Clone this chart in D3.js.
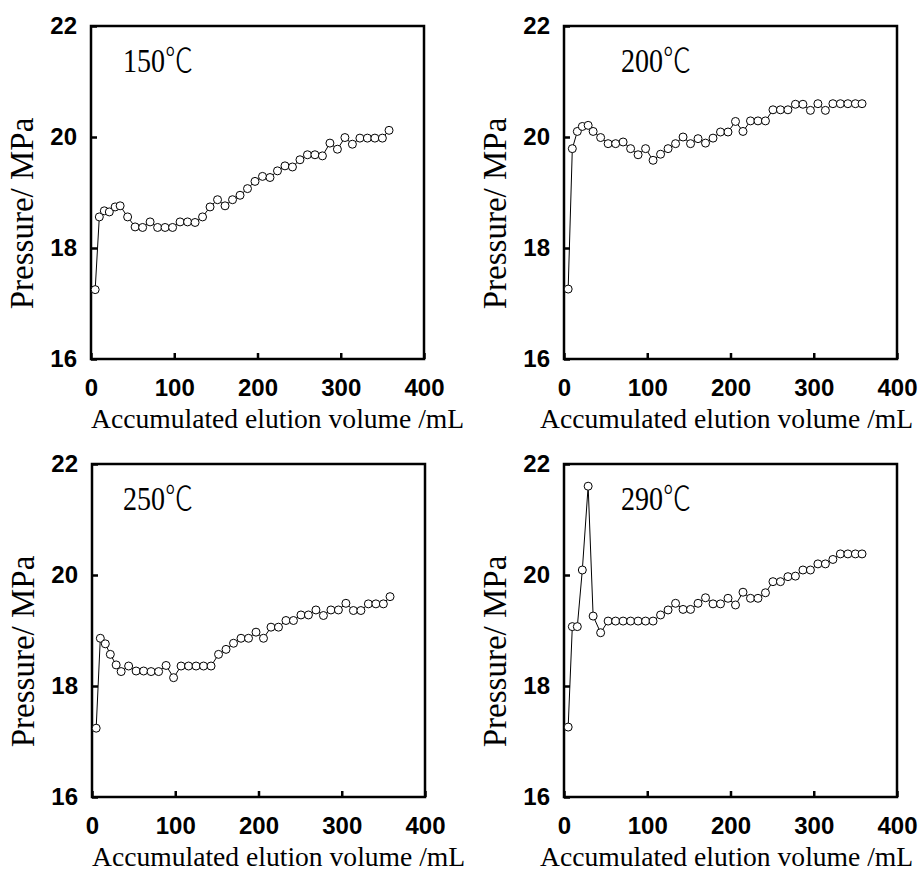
<!DOCTYPE html>
<html>
<head>
<meta charset="utf-8">
<script src="https://cdn.jsdelivr.net/npm/d3@7"></script>
<style>
  body { margin: 0; background: #fff; }
  svg { display: block; }
</style>
</head>
<body>
<div id="chart"></div>
<script>
// accumulated elution volume (mL), shared by all four runs
var volume = [5, 10, 16, 22, 29, 35, 44, 53, 62, 71, 80, 89, 98, 107, 116, 125, 134, 143, 152, 161, 170,
  179, 188, 197, 206, 215, 224, 233, 242, 251, 260, 269, 278, 287, 296, 305, 314, 323, 332, 341, 350, 358];

// pressure (MPa)
var p150 = [17.25, 18.56, 18.67, 18.65, 18.74, 18.76, 18.56, 18.38, 18.37, 18.47, 18.37, 18.37, 18.37, 18.47,
  18.47, 18.46, 18.56, 18.74, 18.87, 18.76, 18.87, 18.95, 19.07, 19.2, 19.29, 19.27, 19.39, 19.48, 19.46,
  19.59, 19.68, 19.68, 19.66, 19.89, 19.78, 19.99, 19.87, 19.98, 19.98, 19.98, 19.98, 20.12];
var p200 = [17.26, 19.79, 20.1, 20.19, 20.21, 20.1, 19.99, 19.88, 19.88, 19.91, 19.79, 19.68, 19.79, 19.58,
  19.69, 19.79, 19.88, 20.0, 19.88, 19.97, 19.89, 19.98, 20.09, 20.09, 20.28, 20.1, 20.29, 20.29, 20.29,
  20.49, 20.49, 20.49, 20.59, 20.59, 20.48, 20.6, 20.48, 20.6, 20.6, 20.6, 20.6, 20.6];
var p250 = [17.24, 18.86, 18.76, 18.57, 18.38, 18.26, 18.36, 18.27, 18.27, 18.26, 18.26, 18.37, 18.15, 18.36,
  18.36, 18.36, 18.36, 18.36, 18.57, 18.66, 18.77, 18.86, 18.86, 18.97, 18.86, 19.06, 19.06, 19.18, 19.18,
  19.28, 19.28, 19.37, 19.27, 19.37, 19.37, 19.49, 19.36, 19.36, 19.48, 19.48, 19.48, 19.61];
var p290 = [17.26, 19.07, 19.07, 20.09, 21.6, 19.26, 18.96, 19.17, 19.17, 19.17, 19.17, 19.17, 19.17, 19.17,
  19.28, 19.37, 19.49, 19.38, 19.38, 19.49, 19.59, 19.48, 19.48, 19.58, 19.46, 19.69, 19.58, 19.58, 19.68,
  19.88, 19.88, 19.97, 19.98, 20.09, 20.09, 20.2, 20.2, 20.28, 20.38, 20.38, 20.38, 20.38];

var panelTemps = ["150", "200", "250", "290"];
var xTicks = [0, 100, 200, 300, 400];
var yTicks = [16, 18, 20, 22];
var xTitle = "Accumulated elution volume /mL";
var yTitle = "Pressure/ MPa";

var W = 924, H = 872, size = 333;
var serif = "'Times New Roman', 'Liberation Serif', serif";
var sans = "Arial, 'Liberation Sans', sans-serif";

var svg = d3.select("#chart").append("svg")
  .attr("width", W)
  .attr("height", H);

var panels = [
  {left: 91, top: 26, values: p150, temp: panelTemps[0], lx: 32, tx: 0},
  {left: 564, top: 26, values: p200, temp: panelTemps[1], lx: 57, tx: -24},
  {left: 92, top: 464, values: p250, temp: panelTemps[2], lx: 31, tx: 0},
  {left: 564, top: 464, values: p290, temp: panelTemps[3], lx: 57, tx: -24}
];

panels.forEach(function(p){
  drawPanel(p);
});

function drawPanel(p){
  var g = svg.append("g").attr("transform", "translate(" + p.left + "," + p.top + ")");
  var x = d3.scaleLinear().domain([0, 400]).range([0, size]);
  var y = d3.scaleLinear().domain([16, 22]).range([size, 0]);

  var gx = g.append("g")
    .attr("transform", "translate(0," + size + ")")
    .call(d3.axisBottom(x).tickValues(xTicks).tickSize(-6).tickPadding(20).tickFormat(d3.format("d")));
  var gy = g.append("g")
    .call(d3.axisLeft(y).tickValues(yTicks).tickSize(-6).tickPadding(14).tickFormat(d3.format("d")));

  [gx, gy].forEach(function(a){
    a.select(".domain").remove();
    a.selectAll("line").attr("stroke", "#000").attr("stroke-width", 2.5);
    a.selectAll("text")
      .attr("fill", "#000")
      .style("font-family", sans)
      .style("font-weight", "bold")
      .style("font-size", "24px");
  });

  g.append("rect")
    .attr("width", size)
    .attr("height", size)
    .attr("fill", "none")
    .attr("stroke", "#000")
    .attr("stroke-width", 2.5);

  var pts = volume.map(function(v, i){ return [v, p.values[i]]; });

  g.append("path")
    .datum(pts)
    .attr("fill", "none")
    .attr("stroke", "#000")
    .attr("stroke-width", 1)
    .attr("d", d3.line().x(function(d){ return x(d[0]); }).y(function(d){ return y(d[1]); }));

  g.selectAll("circle")
    .data(pts)
    .enter().append("circle")
    .attr("cx", function(d){ return x(d[0]); })
    .attr("cy", function(d){ return y(d[1]); })
    .attr("r", 4)
    .attr("fill", "#fff")
    .attr("stroke", "#000")
    .attr("stroke-width", 1);

  // temperature label, squeezed a little like the original
  var lab = g.append("text")
    .attr("transform", "translate(" + p.lx + ",46) scale(0.85,1)")
    .style("font-family", serif)
    .style("font-size", "33px");
  lab.append("tspan").text(p.temp);
  lab.append("tspan").style("font-family", "'Noto Sans CJK SC', sans-serif").style("font-weight", 300).text("℃");

  g.append("text")
    .attr("x", p.tx)
    .attr("y", size + 69)
    .style("font-family", serif)
    .style("font-size", "27.6px")
    .text(xTitle);

  g.append("text")
    .attr("transform", "translate(-58," + (size / 2 + 21) + ") rotate(-90)")
    .attr("text-anchor", "middle")
    .style("font-family", serif)
    .style("font-size", "33px")
    .text(yTitle);
}
</script>
</body>
</html>
